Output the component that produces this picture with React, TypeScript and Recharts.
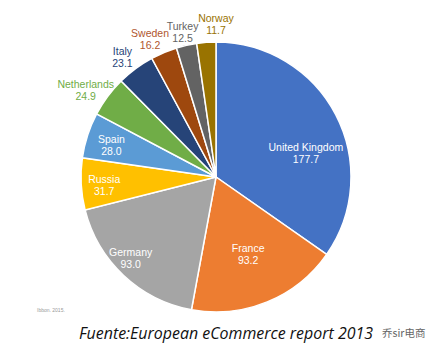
import { PieChart, Pie, Cell } from "recharts";

const PAISES = [
  "United Kingdom",
  "France",
  "Germany",
  "Russia",
  "Spain",
  "Netherlands",
  "Italy",
  "Sweden",
  "Turkey",
  "Norway",
];

const VENTAS = [177.7, 93.2, 93.0, 31.7, 28.0, 24.9, 23.1, 16.2, 12.5, 11.7];

const COLORES = [
  "#4472C4",
  "#ED7D31",
  "#A5A5A5",
  "#FFC000",
  "#5B9BD5",
  "#70AD47",
  "#264478",
  "#9E480E",
  "#636363",
  "#997300",
];

const COLORES_TEXTO = [
  "#ffffff",
  "#ffffff",
  "#ffffff",
  "#ffffff",
  "#ffffff",
  "#70AD47",
  "#264478",
  "#B0562E",
  "#636363",
  "#997300",
];

// ajuste tipo "best fit" de Excel: giro (grados) y radio relativo de cada etiqueta
const GIRO_ETIQUETA = [-12.3, 0.3, -3.4, 1.1, 1.0, 2.9, 1.3, 2.9, 0.4, -4.1];
const RADIO_ETIQUETA = [0.69, 0.62, 0.87, 0.83, 0.81, 1.16, 1.13, 1.13, 1.1, 1.13];

const datos = PAISES.map((nombre, i) => ({ nombre, valor: VENTAS[i] }));

const RAD = Math.PI / 180;

const Etiqueta = (props: any) => {
  const { cx, cy, midAngle, outerRadius, index } = props;
  const ang = (midAngle + GIRO_ETIQUETA[index]) * RAD;
  const r = outerRadius * RADIO_ETIQUETA[index];
  const x = cx + r * Math.cos(-ang);
  const y = cy + r * Math.sin(-ang);
  return (
    <text
      x={x}
      y={y}
      textAnchor="middle"
      fill={COLORES_TEXTO[index]}
      fontFamily="'Liberation Sans', Arial, sans-serif"
      fontSize={10.5}
    >
      <tspan x={x} dy={-2}>
        {PAISES[index]}
      </tspan>
      <tspan x={x} dy={12}>
        {VENTAS[index].toFixed(1)}
      </tspan>
    </text>
  );
};

export default function App() {
  return (
    <div
      style={{
        position: "absolute",
        left: 0,
        top: 0,
        width: 434,
        height: 352,
        background: "#ffffff",
      }}
    >
      <PieChart width={434} height={352} margin={{ top: 0, right: 0, bottom: 0, left: 0 }}>
        <Pie
          data={datos}
          dataKey="valor"
          nameKey="nombre"
          cx={216}
          cy={177}
          outerRadius={135}
          startAngle={90}
          endAngle={-270}
          stroke="#ffffff"
          strokeWidth={1.5}
          label={Etiqueta}
          labelLine={false}
          isAnimationActive={false}
        >
          {datos.map((d, i) => (
            <Cell key={d.nombre} fill={COLORES[i]} />
          ))}
        </Pie>
      </PieChart>
      <svg
        width={434}
        height={352}
        style={{ position: "absolute", left: 0, top: 0, pointerEvents: "none" }}
      >
        <text x={37} y={312} fontSize={5} fill="#999" fontFamily="'Liberation Sans', Arial, sans-serif">
          Ibbon. 2015.
        </text>
        <text
          x={79}
          y={339}
          fontSize={17}
          fontStyle="italic"
          fill="#111"
          fontFamily="'Open Sans', sans-serif"
          textLength={294}
          lengthAdjust="spacingAndGlyphs"
        >
          Fuente:European eCommerce report 2013
        </text>
        <text
          x={382}
          y={337}
          fontSize={10.5}
          fill="#666"
          fontFamily="'Noto Sans CJK SC', sans-serif"
        >
          乔sir电商
        </text>
      </svg>
    </div>
  );
}
